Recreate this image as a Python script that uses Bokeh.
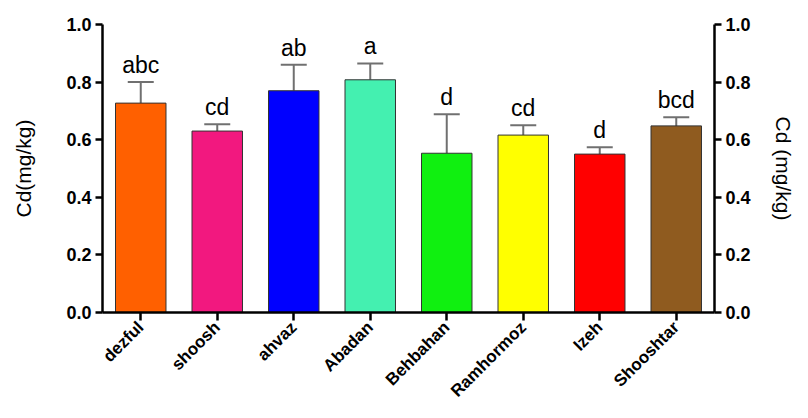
from math import pi
from bokeh.plotting import figure
from bokeh.models import (ColumnDataSource, LinearAxis, Range1d, FactorRange,
                          Whisker, TeeHead, FixedTicker, NumeralTickFormatter)
from bokeh.core.properties import value
from bokeh.embed import file_html
from bokeh.resources import INLINE

cities = ["dezful", "shoosh", "ahvaz", "Abadan", "Behbahan", "Ramhormoz", "Izeh", "Shooshtar"]
means = [0.727, 0.630, 0.770, 0.808, 0.553, 0.616, 0.550, 0.648]
upper = [0.800, 0.654, 0.860, 0.865, 0.688, 0.650, 0.574, 0.678]
letters = ["abc", "cd", "ab", "a", "d", "cd", "d", "bcd"]
colors = ["#FF6000", "#F2187F", "#0000FF", "#44F0B0", "#10F010", "#FFFF00", "#FF0000", "#8F5B1F"]

src = ColumnDataSource(dict(x=cities, top=means, up=upper, lab=letters, col=colors))

FONT = "Liberation Sans"

p = figure(x_range=FactorRange(*cities, range_padding=0), y_range=Range1d(0, 1.0),
           width=800, height=410, output_backend="svg", toolbar_location=None,
           min_border_left=102, min_border_right=86, min_border_top=24, min_border_bottom=97)
p.outline_line_color = None
p.xgrid.grid_line_color = None
p.ygrid.grid_line_color = None
p.background_fill_color = "white"

p.vbar(x="x", top="top", width=0.66, source=src, fill_color="col",
       line_color="#333333", line_width=1)

w = Whisker(base="x", lower="top", upper="up", source=src, line_color="#707070",
            line_width=2,
            upper_head=TeeHead(size=26, line_color="#707070", line_width=2),
            lower_head=None)
p.add_layout(w)

p.text(x="x", y="up", text="lab", source=src, text_align="center", text_baseline="bottom",
       y_offset=-4, text_font=value(FONT), text_font_size="23px", text_color="black")

def style_y(ax, title):
    ax.ticker = FixedTicker(ticks=[0, 0.2, 0.4, 0.6, 0.8, 1.0])
    ax.formatter = NumeralTickFormatter(format="0.0")
    ax.minor_tick_line_color = None
    ax.major_tick_in = 0
    ax.major_tick_out = 7
    ax.major_tick_line_width = 2.5
    ax.axis_line_width = 2.5
    ax.major_label_text_font = FONT
    ax.major_label_text_font_style = "bold"
    ax.major_label_text_font_size = "18px"
    ax.major_label_text_color = "black"
    ax.major_label_standoff = 4
    ax.axis_label = title
    ax.axis_label_text_font = FONT
    ax.axis_label_text_font_style = "normal"
    ax.axis_label_text_font_size = "21px"
    ax.axis_label_text_color = "black"
    ax.axis_label_standoff = 28

style_y(p.yaxis[0], "Cd(mg/kg)")
ry = LinearAxis()
style_y(ry, "Cd (mg/kg)")
ry.axis_label_standoff = 18
p.add_layout(ry, "right")

xa = p.xaxis[0]
xa.major_label_orientation = pi / 4
xa.major_tick_in = 0
xa.major_tick_out = 8
xa.major_tick_line_width = 2.5
xa.axis_line_width = 2.5
xa.major_label_text_font = FONT
xa.major_label_text_font_style = "bold"
xa.major_label_text_font_size = "17px"
xa.major_label_text_color = "black"
xa.major_label_standoff = 4

open("out.html", "w").write(file_html(p, INLINE))
